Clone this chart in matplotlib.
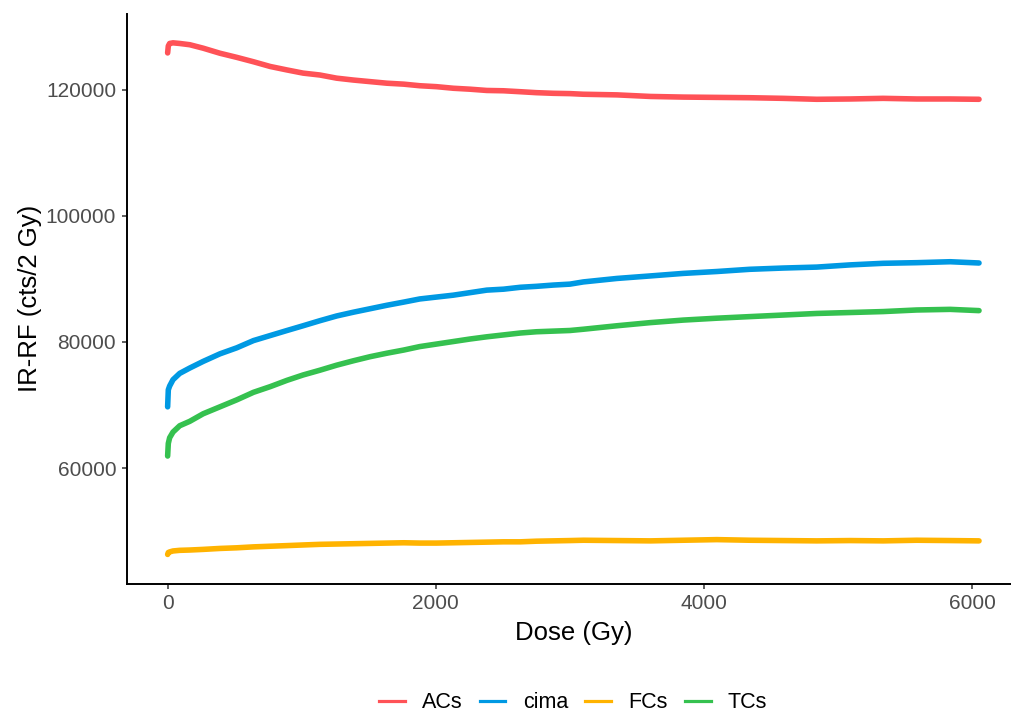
import matplotlib
matplotlib.use("Agg")
import matplotlib.pyplot as plt
from matplotlib.lines import Line2D

plt.rcParams['font.family'] = ['Liberation Sans', 'DejaVu Sans']

# Dose grid (Gy) shared by all series
dose = [0, 5, 15, 40, 90, 165, 265, 390, 515, 640, 765, 890, 1010, 1135, 1260,
        1385, 1510, 1635, 1760, 1880, 2005, 2130, 2255, 2380, 2505, 2630, 2750,
        2875, 3000, 3100, 3350, 3600, 3845, 4095, 4340, 4590, 4840, 5090, 5335,
        5585, 5835, 6050]

acs = [125800, 126900, 127300, 127400, 127300, 127100, 126550, 125750, 125100,
       124400, 123650, 123100, 122600, 122300, 121800, 121500, 121250, 121000,
       120850, 120600, 120450, 120200, 120050, 119850, 119800, 119650, 119500,
       119400, 119350, 119250, 119150, 118900, 118800, 118750, 118700, 118600,
       118450, 118500, 118600, 118500, 118500, 118450]

cima = [69700, 72400, 73000, 74000, 75000, 75850, 76900, 78100, 79050, 80200,
        81000, 81800, 82550, 83350, 84100, 84700, 85250, 85800, 86300, 86800,
        87100, 87400, 87800, 88200, 88350, 88650, 88800, 89000, 89150, 89500,
        90050, 90450, 90850, 91150, 91500, 91700, 91850, 92200, 92450, 92550,
        92700, 92500]

fcs = [46300, 46600, 46700, 46850, 46950, 47000, 47100, 47250, 47350, 47500,
       47600, 47700, 47800, 47900, 47950, 48000, 48050, 48100, 48150, 48100,
       48100, 48150, 48200, 48250, 48300, 48300, 48400, 48450, 48500, 48550,
       48500, 48450, 48550, 48650, 48550, 48500, 48450, 48500, 48450, 48550,
       48500, 48450]

tcs = [61900, 63900, 64800, 65700, 66700, 67400, 68600, 69700, 70800, 72000,
       72900, 73900, 74750, 75500, 76300, 77000, 77650, 78200, 78700, 79250,
       79650, 80050, 80450, 80800, 81100, 81400, 81600, 81700, 81800, 82000,
       82550, 83050, 83450, 83750, 84000, 84250, 84500, 84650, 84800, 85050,
       85150, 84950]

series_names = ["ACs", "cima", "FCs", "TCs"]
series_values = [acs, cima, fcs, tcs]
series_colors = ["#FF5257", "#0099E3", "#FFB300", "#35C14F"]

x_ticks = [0, 2000, 4000, 6000]
y_ticks = [60000, 80000, 100000, 120000]

W, H = 1012, 713
fig = plt.figure(figsize=(W / 100, H / 100), dpi=100)

# panel box in pixels (left, top, right, bottom)
pl, pt, pr, pb = 127, 13.5, 1021, 583.5
ax = fig.add_axes([pl / W, 1 - pb / H, (pr - pl) / W, (pb - pt) / H])

for name, vals, col in zip(series_names, series_values, series_colors):
    ax.plot(dose, vals, color=col, lw=4.0, solid_capstyle='round',
            solid_joinstyle='round', label=name)

ax.set_xlim(-303, 6363)
ax.set_ylim(41693, 132050)
ax.set_xticks(x_ticks)
ax.set_xticklabels([str(v) for v in x_ticks])
ax.set_yticks(y_ticks)
ax.set_yticklabels([str(v) for v in y_ticks])

for s in ["top", "right"]:
    ax.spines[s].set_visible(False)
for s in ["left", "bottom"]:
    ax.spines[s].set_color("black")
    ax.spines[s].set_linewidth(1.4)

ax.tick_params(axis="both", length=3.3, width=1.1, color="#333333",
               labelcolor="#4D4D4D", labelsize=15, pad=4.5)

fig.text(574 / W, 1 - 633 / H, "Dose (Gy)", ha="center", va="center",
         fontsize=18.5, color="black")
fig.text(30 / W, 1 - 298.5 / H, "IR-RF (cts/2 Gy)", ha="center", va="center",
         rotation=90, fontsize=18.5, color="black")

handles = [Line2D([0], [0], color=c, lw=2.3) for c in series_colors]
fig.legend(handles, series_names, loc="center", ncol=4,
           bbox_to_anchor=(573 / W, 1 - 703 / H), frameon=False,
           fontsize=15.5, handlelength=1.2, handletextpad=0.8,
           columnspacing=0.8, borderpad=0, borderaxespad=0)

fig.savefig("out.png", dpi=100)
